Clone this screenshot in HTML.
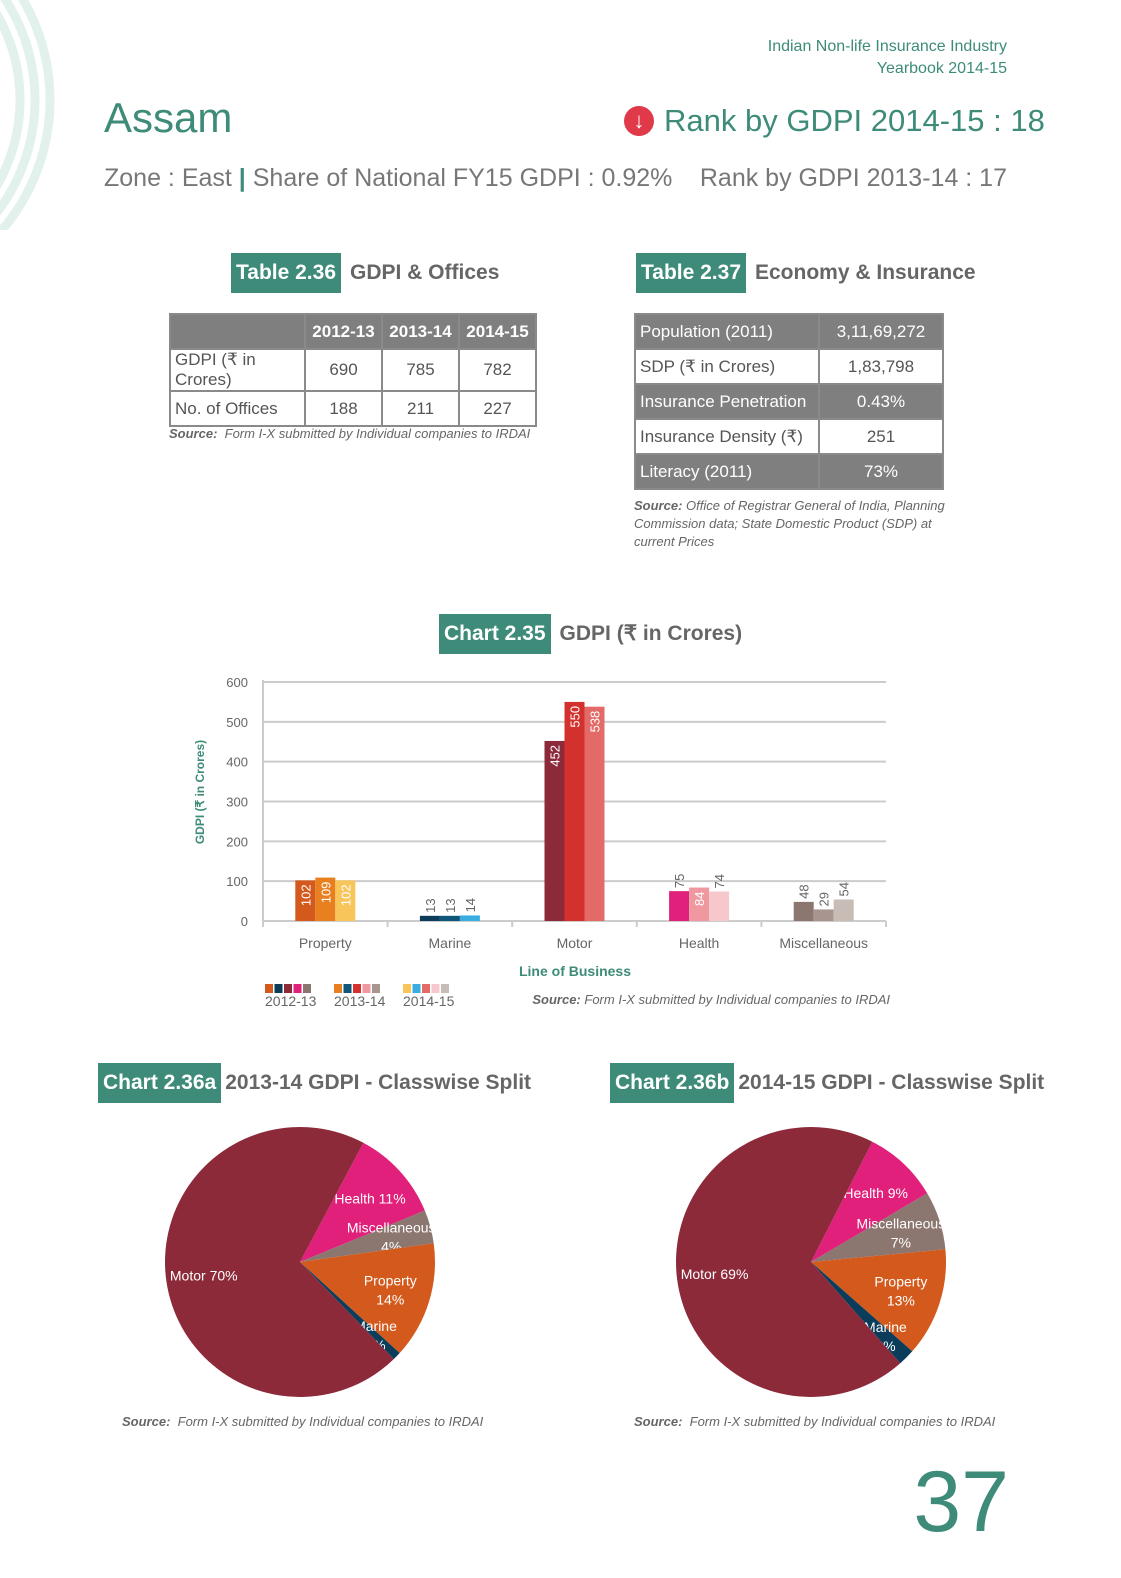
<!DOCTYPE html>
<html><head><meta charset="utf-8">
<style>
*{margin:0;padding:0;box-sizing:border-box}
body{width:1121px;height:1578px;background:#fff;position:relative;overflow:hidden;font-family:"Liberation Sans Narrow","Liberation Sans",sans-serif;color:#555}
.a{position:absolute;white-space:nowrap}
.tag{background:#3d8b78;color:#fff;font-weight:bold;font-size:21px;padding:0 5px;line-height:40px;height:40px}
.ttl{color:#666;font-weight:bold;font-size:21px;line-height:40px}
table{border-collapse:collapse;position:absolute;font-size:17px}
td{border:2px solid #8a8a8a;height:35px;padding:0 4px;color:#555}
td.h{background:#7f7f7f;color:#fff}
.src{font-size:13px;font-style:italic;color:#666}
.src b{font-weight:bold}
</style></head><body>
<svg class="a" style="left:0;top:0" width="70" height="230">
<g fill="none" stroke="#e3f1ec" stroke-width="9">
<circle cx="-150" cy="100" r="200"/><circle cx="-150" cy="100" r="185"/><circle cx="-150" cy="100" r="170"/></g>
</svg>
<div class="a" style="right:114px;top:36px;text-align:right;color:#3d8b78;font-size:16px;line-height:22px">Indian Non-life Insurance Industry<br>Yearbook 2014-15</div>
<div class="a" style="left:104px;top:94px;color:#3d8b78;font-size:42px">Assam</div>
<div class="a" style="left:104px;top:164px;font-size:25px;color:#777">Zone : East <span style="color:#3d8b78;font-weight:bold">|</span> Share of National FY15 GDPI : 0.92%</div>
<div class="a" style="left:624px;top:103px;color:#3d8b78;font-size:31px"><span style="display:inline-block;width:30px;height:30px;border-radius:50%;background:#e0394a;color:#fff;font-size:22px;text-align:center;line-height:30px;vertical-align:3px;margin-right:10px">&#8595;</span>Rank by GDPI 2014-15 : 18</div>
<div class="a" style="right:114px;top:164px;font-size:25px;color:#777">Rank by GDPI 2013-14 : 17</div>

<div class="a" style="left:231px;top:253px;display:flex"><span class="tag">Table 2.36</span><span class="ttl" style="margin-left:9px">GDPI &amp; Offices</span></div>
<table style="left:169px;top:313px;width:368px">
<tr><td class="h" style="width:135px"></td><td class="h" style="text-align:center;font-weight:bold">2012-13</td><td class="h" style="text-align:center;font-weight:bold">2013-14</td><td class="h" style="text-align:center;font-weight:bold">2014-15</td></tr>
<tr><td>GDPI (₹ in Crores)</td><td align="center">690</td><td align="center">785</td><td align="center">782</td></tr>
<tr><td>No. of Offices</td><td align="center">188</td><td align="center">211</td><td align="center">227</td></tr>
</table>
<div class="a src" style="left:169px;top:426px"><b>Source:</b>&nbsp; Form I-X submitted by Individual companies to IRDAI</div>

<div class="a" style="left:636px;top:253px;display:flex"><span class="tag">Table 2.37</span><span class="ttl" style="margin-left:9px">Economy &amp; Insurance</span></div>
<table style="left:634px;top:313px;width:310px">
<tr><td class="h" style="width:184px">Population (2011)</td><td class="h" align="center">3,11,69,272</td></tr>
<tr><td>SDP (₹ in Crores)</td><td align="center">1,83,798</td></tr>
<tr><td class="h">Insurance Penetration</td><td class="h" align="center">0.43%</td></tr>
<tr><td>Insurance Density (₹)</td><td align="center">251</td></tr>
<tr><td class="h">Literacy (2011)</td><td class="h" align="center">73%</td></tr>
</table>
<div class="a src" style="left:634px;top:497px;line-height:18px"><b>Source:</b> Office of Registrar General of India, Planning<br>Commission data; State Domestic Product (SDP) at<br>current Prices</div>

<div class="a" style="left:439px;top:614px;display:flex"><span class="tag">Chart 2.35</span><span class="ttl" style="margin-left:9px">GDPI (₹ in Crores)</span></div>
<svg id="bar" class="a" style="left:0;top:660px" width="1121" height="360"></svg>

<div class="a" style="left:98px;top:1063px;display:flex"><span class="tag">Chart 2.36a</span><span class="ttl" style="margin-left:4px">2013-14 GDPI - Classwise Split</span></div>
<div class="a" style="left:610px;top:1063px;display:flex"><span class="tag">Chart 2.36b</span><span class="ttl" style="margin-left:4px">2014-15 GDPI - Classwise Split</span></div>
<svg id="pies" class="a" style="left:0;top:1100px" width="1121" height="310"></svg>
<div class="a src" style="left:122px;top:1414px"><b>Source:</b>&nbsp; Form I-X submitted by Individual companies to IRDAI</div>
<div class="a src" style="left:634px;top:1414px"><b>Source:</b>&nbsp; Form I-X submitted by Individual companies to IRDAI</div>
<div class="a" style="right:112px;top:1452px;color:#3d8b78;font-size:86px;line-height:100px">37</div>

<script>
const categories=["Property","Marine","Motor","Health","Miscellaneous"];
const years=["2012-13","2013-14","2014-15"];
const v1213=[102,13,452,75,48];
const v1314=[109,13,550,84,29];
const v1415=[102,14,538,74,54];
const yTicks=[0,100,200,300,400,500,600];
const colors=[["#d35a1c","#0b3d5a","#8c2a3a","#e0207a","#8c7670"],["#e8801f","#10557a","#d3312e","#ef98a0","#a89590"],["#f7c55a","#3aaee0","#e46a68","#f6c7cb","#c8bcb6"]];
const NS="http://www.w3.org/2000/svg";
function mk(p,t,a,txt){const e=document.createElementNS(NS,t);for(const k in a)e.setAttribute(k,a[k]);if(txt!==undefined)e.textContent=txt;p.appendChild(e);return e;}
const svg=document.getElementById('bar');
const X0=263,X1=886,Y0=261,Ymax=600,H=239;
const y=v=>Y0-v/Ymax*H;
const gw=(X1-X0)/categories.length, bw=20;
yTicks.forEach(t=>{const g=mk(svg,'line',{x1:X0,x2:X1,y1:y(t),y2:y(t),stroke:'#ccc','stroke-width':2});
const l=mk(svg,'text',{x:248,y:y(t)+5,'text-anchor':'end','font-size':13,fill:'#666'},t);});
mk(svg,'line',{x1:X0,x2:X0,y1:y(600)-2,y2:Y0+6,stroke:'#ccc','stroke-width':2});
for(let i=0;i<=categories.length;i++)mk(svg,'line',{x1:X0+gw*i,x2:X0+gw*i,y1:Y0,y2:Y0+6,stroke:'#ccc','stroke-width':2});
const series=[v1213,v1314,v1415];
categories.forEach((c,i)=>{const cx=X0+gw*(i+0.5);
series.forEach((s,j)=>{const bx=cx-1.5*bw+j*bw;const r=mk(svg,'rect',{x:bx,y:y(s[i]),width:bw,height:Y0-y(s[i]),fill:colors[j][i]});

const inside=Y0-y(s[i])>30;const tx=bx+bw/2+5,ty=inside?y(s[i])+4:y(s[i])-3;
const t=mk(svg,'text',{x:tx,y:ty,transform:`rotate(-90 ${tx} ${ty})`,'text-anchor':inside?'end':'start','font-size':13,fill:inside?'#fff':'#666'},s[i]);
});
const cl=mk(svg,'text',{x:cx,y:Y0+27,'text-anchor':'middle','font-size':14,fill:'#666'},c);});
const xt=mk(svg,'text',{x:575,y:316,'text-anchor':'middle','font-size':14,'font-weight':'bold',fill:'#3d8b78'},'Line of Business');
const yt=mk(svg,'text',{x:204,y:132,transform:'rotate(-90 204 132)','text-anchor':'middle','font-size':12,'font-weight':'bold',fill:'#3d8b78'},'GDPI (₹ in Crores)');
years.forEach((yr,j)=>{const lx=265+j*69;colors[j].forEach((col,k)=>mk(svg,'rect',{x:lx+k*9.5,y:324,width:8,height:9,fill:col}));
const t=mk(svg,'text',{x:lx,y:346,'font-size':14,fill:'#666'},yr);});
const s=mk(svg,'text',{x:890,y:344,'text-anchor':'end','font-size':13,'font-style':'italic',fill:'#666'});
mk(s,'tspan',{'font-weight':'bold'},'Source:');mk(s,'tspan',{},'  Form I-X submitted by Individual companies to IRDAI');

// pies
const pieLabels=["Health","Miscellaneous","Property","Marine","Motor"];
const pieA=[11,4,14,1,70];
const pieB=[9,7,13,2,69];
const pieColors=["#e0207a","#8c7670","#d35a1c","#0b3d5a","#8c2a3a"];
const ps=document.getElementById('pies');
function pie(cx,cy,r,vals,start,nm){let tot=vals.reduce((a,b)=>a+b,0);let a=start;
vals.forEach((v,i)=>{const a2=a+v/tot*360;const rad=d=>(d-90)*Math.PI/180;
const x1=cx+r*Math.cos(rad(a)),y1=cy+r*Math.sin(rad(a)),x2=cx+r*Math.cos(rad(a2)),y2=cy+r*Math.sin(rad(a2));
const p=mk(ps,'path',{d:`M${cx},${cy}L${x1},${y1}A${r},${r} 0 ${a2-a>180?1:0} 1 ${x2},${y2}Z`,fill:pieColors[i]});

const m=(a+a2)/2;let lr=pieLabels[i]=="Motor"?r*0.72:(pieLabels[i]=="Marine"?r*0.78:r*0.7);
const lx=cx+lr*Math.cos(rad(m)),ly=cy+lr*Math.sin(rad(m));
const txt=pieLabels[i]=="Motor"?["Motor "+v+"%"]:pieLabels[i]=="Health"?["Health "+v+"%"]:[pieLabels[i],v+"%"];
txt.forEach((tt,k)=>{const t=mk(ps,'text',{x:lx,y:ly+(k-(txt.length-1)/2)*19+5,'text-anchor':'middle','font-size':14,fill:'#fff'},tt);
});
a=a2;});}
pie(300,162,135,pieA,28,'pie-2013-14');
pie(811,162,135,pieB,27,'pie-2014-15');
</script>
</body></html>
